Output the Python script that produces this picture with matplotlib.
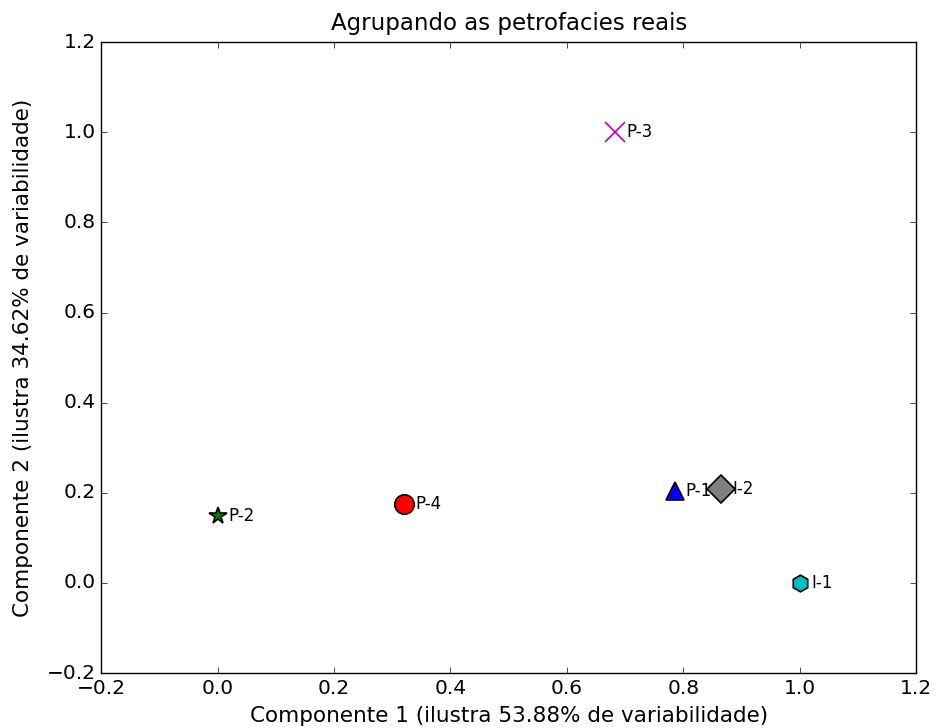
import matplotlib
matplotlib.use('Agg')
import matplotlib.pyplot as plt

plt.style.use('classic')

# petrofacies positions (component 1, component 2)
labels = ['P-1', 'P-2', 'P-3', 'P-4', 'I-1', 'I-2']
comp1 = [0.785, 0.0, 0.683, 0.32, 1.0, 0.865]
comp2 = [0.205, 0.148, 1.0, 0.175, 0.0, 0.208]
markers = ['^', '*', 'x', 'o', 'h', 'D']
colors = ['b', 'g', 'm', 'r', 'c', 'gray']
sizes = [13, 13, 14, 14, 12, 14]

fig = plt.figure(figsize=(9.36, 7.28), dpi=100)
ax = fig.add_subplot(111)
fig.subplots_adjust(left=0.108, right=0.979, top=0.942, bottom=0.0755)

for i in range(len(labels)):
    if markers[i] == 'x':
        ax.plot(comp1[i], comp2[i], marker='x', color=colors[i], markersize=sizes[i],
                markeredgewidth=1.2, linestyle='none')
    else:
        ax.plot(comp1[i], comp2[i], marker=markers[i], color=colors[i], markersize=sizes[i],
                markeredgecolor='k', markeredgewidth=1.2, linestyle='none')
    ax.annotate(labels[i], (comp1[i], comp2[i]), xytext=(8, 0), textcoords='offset points',
                va='center', ha='left', fontsize=12)

ax.set_xlim(-0.2, 1.2)
ax.set_ylim(-0.2, 1.2)
ax.tick_params(labelsize=14.5)
ax.set_title('Agrupando as petrofacies reais', fontsize=16.5, pad=9)
ax.set_xlabel('Componente 1 (ilustra 53.88% de variabilidade)', fontsize=15.5, labelpad=6)
ax.set_ylabel('Componente 2 (ilustra 34.62% de variabilidade)', fontsize=15.5, labelpad=10)

fig.savefig('out.png', dpi=100)
